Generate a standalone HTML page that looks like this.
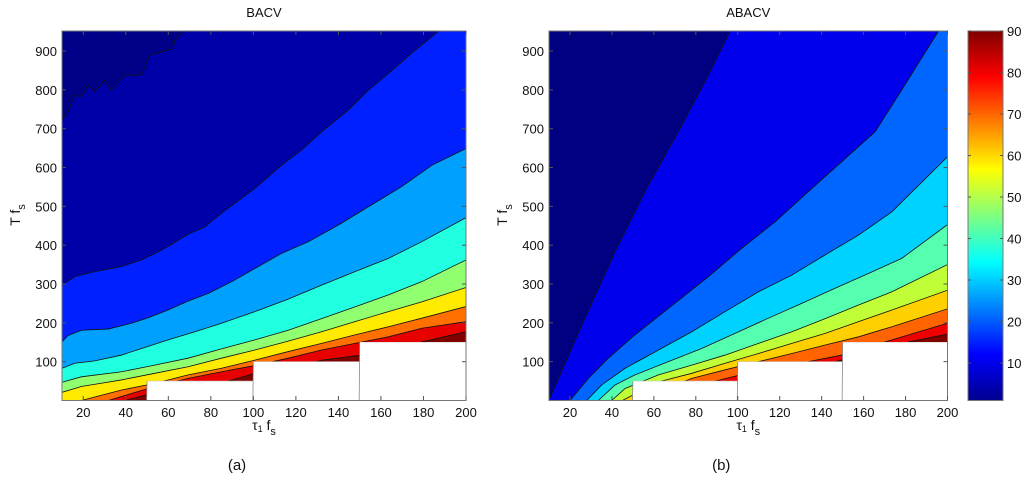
<!DOCTYPE html>
<html><head><meta charset="utf-8">
<style>
body{margin:0;background:#fff;}
svg text{font-family:"Liberation Sans",Arial,sans-serif;fill:#111;}
</style></head>
<body>
<svg id="fig" width="1024" height="481" viewBox="0 0 1024 481" xmlns="http://www.w3.org/2000/svg">
<defs>
<clipPath id="clipA"><rect x="62" y="31" width="404" height="369.5"/></clipPath>
<clipPath id="clipB"><rect x="549" y="31" width="398.5" height="369.5"/></clipPath>
<linearGradient id="jet" x1="0" y1="1" x2="0" y2="0">
<stop offset="0" stop-color="#00008f"/><stop offset="0.125" stop-color="#0000ff"/>
<stop offset="0.375" stop-color="#00ffff"/><stop offset="0.625" stop-color="#ffff00"/>
<stop offset="0.875" stop-color="#ff0000"/><stop offset="1" stop-color="#800000"/>
</linearGradient>
</defs>
</svg>
<script>
// Panel (a) BACV contour boundaries (tau1*fs, T*fs)
const aNoiseX=[10,12.8,16,19.1,22.2,25.4,30.1,33.2,39.5,47.4,51.3,56.8,62.3,63.1,67];
const aNoiseY=[722,743,786,782,812,795,825,799,838,838,889,898,906,928,951];
const a10X=[10,16,25.4,38,47.4,56.8,69.3,77.2,85,94.5,100.7,113.3,122.7,132.1,144.7,154.1,163.5,176.1,187.1];
const a10Y=[297,319,332,345,362,387,428,447,482,521,546,606,645,692,748,799,842,902,951];
const a20X=[10,12.8,19.1,31.7,42.7,50.5,59.9,69.3,78.8,89.8,100.7,113.3,125.9,140,154.1,169.8,184,200];
const a20Y=[151,167,181,184,199,213,233,256,276,306,340,379,409,452,499,551,606,649];
const a30X=[10,16,25.4,38,47.4,59.9,72.5,85,100.7,116.4,132.1,147.8,163.5,179.2,200];
const a30Y=[83,96,102,117,134,156,177,199,229,261,297,332,366,409,471];
const a40X=[10,19.1,38,53.6,69.3,85,100.7,116.4,132.1,147.8,163.5,179.2,200];
const a40Y=[47,61,74,91,109,133,156,181,211,241,272,306,362];
const a50Y=[21,36,53,70,87,109,130,153,177,203,229,254,291];
const a60X=[19.1,38,53.6,69.3,85,100.7,116.4,132.1,147.8,163.5,179.2,200];
const a60Y=[0,27,44,66,83,104,126,147,169,190,212,242];
const a70X=[31.7,50.5,69.3,85,100.7,116.4,132.1,147.8,163.5,179.2,200];
const a70Y=[0,31,57,74,90,109,130,147,164,186,203];
const a80X=[39.5,50.5,88.2,100.7,116.4,132.1,151,163.5,179.2,200];
const a80Y=[0,16,50,70,83,104,117,130,151,177];
const aColors=["#000088","#0000a8","#0020ff","#00a0ff","#20ffe0","#90ff70","#ffeb00","#ff7000","#e80000","#800000"];

// Panel (b) ABACV
const b1X=[10,25.6,41.5,57.4,73.3,86,96.3];
const b1Y=[1,194,383,555,709,838,951];
const b2X=[20,28.8,38.3,51,66.9,86,101.9,117.8,133.7,149.6,165.5,178.2,189.4,195.7];
const b2Y=[0,57,109,169,237,319,392,460,538,615,692,800,897,951];
const b3X=[28,35.1,46.3,62.2,78.1,94,109.9,125.8,141.7,157.6,173.5,200];
const b3Y=[0,40,83,130,177,229,280,323,375,426,486,628];
const b4X=[33.5,41.5,51,66.9,82.8,98.7,114.6,130.5,146.4,162.3,178.2,200];
const b4Y=[0,40,66,100,134,173,212,250,289,327,366,453];
const b5X=[39.9,46.3,62.2,78.1,94,109.9,125.8,141.7,157.6,173.5,200];
const b5Y=[0,31,66,91,117,147,177,211,246,280,350];
const b6X=[45,62.2,78.1,94,109.9,125.8,141.7,157.6,173.5,200];
const b6Y=[0,48,70,96,121,147,173,203,233,284];
const b7X=[62.2,78.1,94,109.9,125.8,141.7,157.6,173.5,200];
const b7Y=[23,57,79,100,121,143,164,190,236];
const b8X=[78.1,89.2,101.9,117.8,133.7,149.6,165.5,181.4,200];
const b8Y=[31,50,67,83,100,117,143,169,199];
const b9X=[89.2,101.9,117.8,133.7,146.4,165.5,181.4,200];
const b9Y=[23,36,50,79,100,126,151,171];
const bColors=["#000080","#0000ec","#0066ff","#00d2ff","#55ffb0","#c0ff38","#ffd000","#ff6400","#ee0000","#800000"];

const xTicks=[20,40,60,80,100,120,140,160,180,200];
const yTicks=[100,200,300,400,500,600,700,800,900];
const cTicks=[10,20,30,40,50,60,70,80,90];
const steps=[[50,50],[100,100],[150,150]];

const NS="http://www.w3.org/2000/svg";
const svg=document.getElementById('fig');
function mk(tag,attrs,parent){const e=document.createElementNS(NS,tag);for(const k in attrs)e.setAttribute(k,attrs[k]);(parent||svg).appendChild(e);return e;}

function panel(px0,px1,clip,name,bounds,colors,title,letter){
  const sx=x=>px0+(x-10)*(px1-px0)/190;
  const sy=y=>400.5-y*0.3883;
  const g=mk('g',{'clip-path':'url(#'+clip+')'});
  
  
  const bg=mk('rect',{x:px0,y:31,width:px1-px0,height:370,fill:colors[0]},g);
  
  
  bounds.forEach((b,i)=>{
    const X=b[0],Y=b[1];
    let pts=X.map((x,j)=>sx(x)+','+sy(Y[j]));
    if(Y[Y.length-1]>=949) pts.push(sx(200)+','+sy(950));
    pts.push(sx(200)+','+sy(0));
    if(X[0]<=10) pts.push(sx(10)+','+sy(0));
    const p=mk('polygon',{points:pts.join(' '),fill:colors[i+1],stroke:'none'},g);
    
    
  });
  bounds.forEach((b,i)=>{
    const l=mk('polyline',{points:b[0].map((x,j)=>sx(x)+','+sy(b[1][j])).join(' '),fill:'none',stroke:'#111','stroke-width':0.8},g);
    
    
  });
  steps.forEach(s=>{
    const r=mk('rect',{x:sx(s[0]),y:sy(s[1]),width:sx(200)-sx(s[0])+2,height:sy(0)-sy(s[1])+2,fill:'#fff',stroke:'none'},g);
    
    
    mk('line',{x1:sx(s[0])-0.5,y1:sy(0),x2:sx(s[0]),y2:sy(s[1]),stroke:'#888','stroke-width':0.8},g);
    mk('line',{x1:sx(s[0]),y1:sy(s[1]),x2:sx(200),y2:sy(s[1]),stroke:'#ccc','stroke-width':0.6},g);
  });
  const frame=mk('rect',{x:px0,y:31,width:px1-px0,height:369.5,fill:'none',stroke:'#777','stroke-width':1});
  
  
  xTicks.forEach(t=>{
    const x=sx(t);
    mk('line',{x1:x,y1:400,x2:x,y2:396,stroke:'#555'});
    mk('line',{x1:x,y1:31,x2:x,y2:35,stroke:'#555'});
    const tx=mk('text',{x:x,y:417,'text-anchor':'middle','font-size':13});
    tx.textContent=t;
    
    
  });
  yTicks.forEach(t=>{
    const y=sy(t);
    mk('line',{x1:px0,y1:y,x2:px0+4,y2:y,stroke:'#555'});
    mk('line',{x1:px1,y1:y,x2:px1-4,y2:y,stroke:'#555'});
    const ty=mk('text',{x:px0-5,y:y+5,'text-anchor':'end','font-size':13});
    ty.textContent=t;
    
    
  });
  const cx=(px0+px1)/2;
  const tt=mk('text',{x:cx,y:17,'text-anchor':'middle','font-size':13});
  tt.textContent=title;
  
  
  const xl=mk('text',{x:cx,y:430,'text-anchor':'middle','font-size':14});
  xl.innerHTML='τ<tspan font-size="9" dy="2">1</tspan><tspan dy="-2"> f</tspan><tspan font-size="11" dy="5">s</tspan>';
  
  
  const yl=mk('text',{x:0,y:0,'text-anchor':'middle','font-size':14,transform:'translate('+(px0-42)+',215) rotate(-90)'});
  yl.innerHTML='T f<tspan font-size="11" dy="5">s</tspan>';
  
  
  const lt=mk('text',{x:cx-27,y:470,'text-anchor':'middle','font-size':15});
  lt.textContent=letter;
  
  
}

panel(62,466,'clipA','panel-a',
  [[aNoiseX,aNoiseY],[a10X,a10Y],[a20X,a20Y],[a30X,a30Y],[a40X,a40Y],[a40X,a50Y],[a60X,a60Y],[a70X,a70Y],[a80X,a80Y]],
  aColors,'BACV','(a)');
panel(549,947.5,'clipB','panel-b',
  [[b1X,b1Y],[b2X,b2Y],[b3X,b3Y],[b4X,b4Y],[b5X,b5Y],[b6X,b6Y],[b7X,b7Y],[b8X,b8Y],[b9X,b9Y]],
  bColors,'ABACV','(b)');

// colorbar
const cb=mk('rect',{x:968,y:31,width:35,height:369.5,fill:'url(#jet)',stroke:'#777','stroke-width':1});


const cy=v=>404.5-v*4.15;
cTicks.forEach(t=>{
  const y=cy(t);
  mk('line',{x1:968,y1:y,x2:971,y2:y,stroke:'#555'});
  mk('line',{x1:1003,y1:y,x2:1000,y2:y,stroke:'#555'});
  const tl=mk('text',{x:1007,y:y+5,'font-size':13});
  tl.textContent=t;
  
  
});
</script>
</body></html>
